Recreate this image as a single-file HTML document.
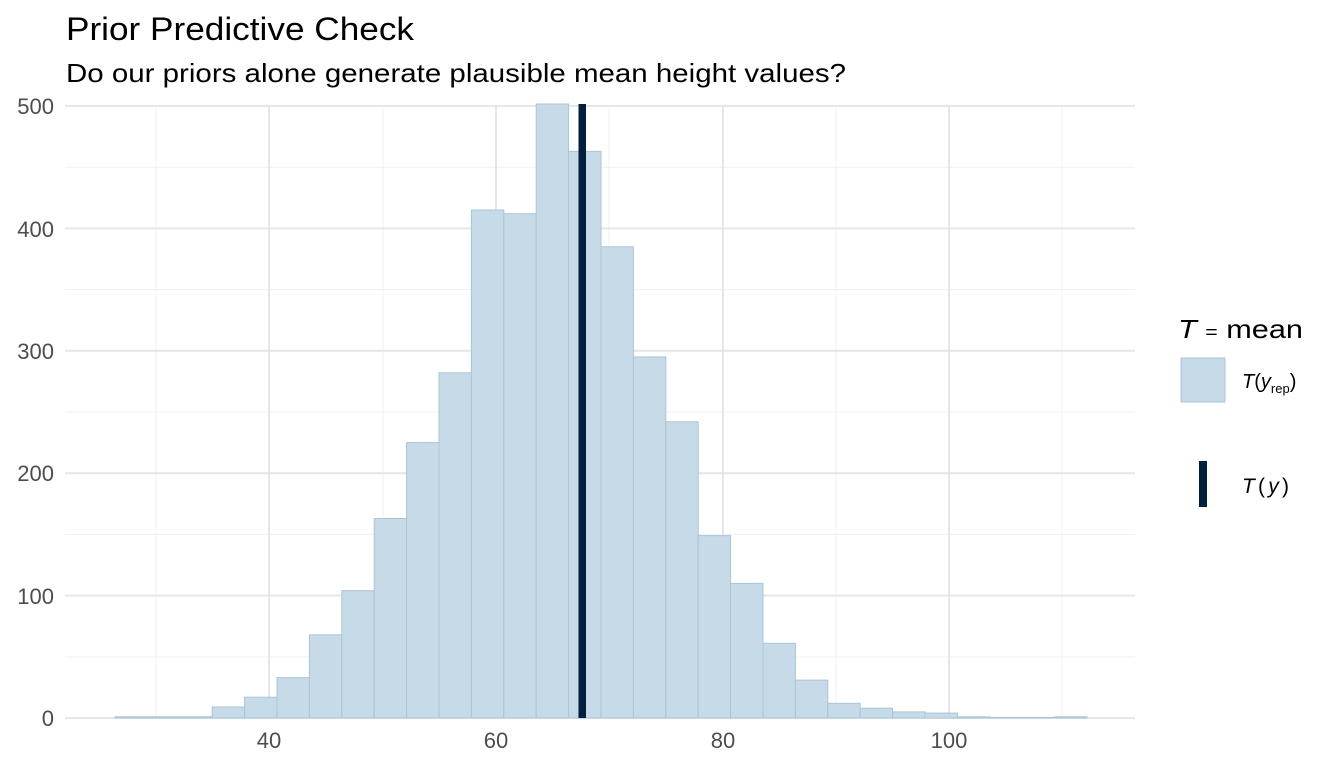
<!DOCTYPE html>
<html><head><meta charset="utf-8"><style>
html,body{margin:0;padding:0;background:#fff;}
svg{display:block;font-family:"Liberation Sans",Arial,sans-serif;}
</style></head><body>
<svg width="1344" height="768" viewBox="0 0 1344 768" xmlns="http://www.w3.org/2000/svg">
<text x="66" y="40" font-size="32" fill="#000" textLength="348" lengthAdjust="spacingAndGlyphs">Prior Predictive Check</text>
<text x="66" y="82" font-size="26" fill="#000" textLength="780" lengthAdjust="spacingAndGlyphs">Do our priors alone generate plausible mean height values?</text>
<g stroke="#f0f0f0" stroke-width="1">
<line x1="65" x2="1135" y1="657" y2="657"/><line x1="65" x2="1135" y1="534.4" y2="534.4"/><line x1="65" x2="1135" y1="412" y2="412"/><line x1="65" x2="1135" y1="289.6" y2="289.6"/><line x1="65" x2="1135" y1="167.2" y2="167.2"/>
<line x1="156" x2="156" y1="106" y2="718"/><line x1="383" x2="383" y1="106" y2="718"/><line x1="609" x2="609" y1="106" y2="718"/><line x1="836" x2="836" y1="106" y2="718"/><line x1="1062" x2="1062" y1="106" y2="718"/>
</g>
<g stroke="#e6e6e6" stroke-width="2">
<line x1="65" x2="1135" y1="718" y2="718"/><line x1="65" x2="1135" y1="595.6" y2="595.6"/><line x1="65" x2="1135" y1="473.2" y2="473.2"/><line x1="65" x2="1135" y1="350.8" y2="350.8"/><line x1="65" x2="1135" y1="228.4" y2="228.4"/><line x1="65" x2="1135" y1="106" y2="106"/>
<line x1="269" x2="269" y1="106" y2="718"/><line x1="496" x2="496" y1="106" y2="718"/><line x1="723" x2="723" y1="106" y2="718"/><line x1="949" x2="949" y1="106" y2="718"/>
</g>
<g fill="#c6dae7" stroke="#a9c5da" stroke-width="1">
<rect x="115" y="716.8" width="32.4" height="1.2"/>
<rect x="147.4" y="716.8" width="32.4" height="1.2"/>
<rect x="179.8" y="716.8" width="32.4" height="1.2"/>
<rect x="212.2" y="707" width="32.4" height="11"/>
<rect x="244.6" y="697.2" width="32.4" height="20.8"/>
<rect x="277" y="677.6" width="32.4" height="40.4"/>
<rect x="309.4" y="634.8" width="32.4" height="83.2"/>
<rect x="341.8" y="590.7" width="32.4" height="127.3"/>
<rect x="374.2" y="518.5" width="32.4" height="199.5"/>
<rect x="406.6" y="442.6" width="32.4" height="275.4"/>
<rect x="439" y="372.8" width="32.4" height="345.2"/>
<rect x="471.4" y="210" width="32.4" height="508"/>
<rect x="503.8" y="213.7" width="32.4" height="504.3"/>
<rect x="536.2" y="104" width="32.4" height="614"/>
<rect x="568.6" y="151.3" width="32.4" height="566.7"/>
<rect x="601" y="246.8" width="32.4" height="471.2"/>
<rect x="633.4" y="356.9" width="32.4" height="361.1"/>
<rect x="665.8" y="421.8" width="32.4" height="296.2"/>
<rect x="698.2" y="535.6" width="32.4" height="182.4"/>
<rect x="730.6" y="583.4" width="32.4" height="134.6"/>
<rect x="763" y="643.3" width="32.4" height="74.7"/>
<rect x="795.4" y="680.1" width="32.4" height="37.9"/>
<rect x="827.8" y="703.3" width="32.4" height="14.7"/>
<rect x="860.2" y="708.2" width="32.4" height="9.8"/>
<rect x="892.6" y="711.9" width="32.4" height="6.1"/>
<rect x="925" y="713.1" width="32.4" height="4.9"/>
<rect x="957.4" y="716.8" width="32.4" height="1.2"/>
<rect x="989.8" y="717.4" width="32.4" height="0.6"/>
<rect x="1022.2" y="717.4" width="32.4" height="0.6"/>
<rect x="1054.6" y="716.8" width="32.4" height="1.2"/>
</g>
<rect x="578.5" y="104" width="7.5" height="614" fill="#011f3f"/>
<g font-size="22" fill="#4d4d4d" text-anchor="end">
<text x="54" y="726">0</text>
<text x="54" y="604">100</text>
<text x="54" y="481">200</text>
<text x="54" y="359">300</text>
<text x="54" y="237">400</text>
<text x="54" y="114">500</text>
</g>
<g font-size="22" fill="#4d4d4d" text-anchor="middle">
<text x="269" y="748">40</text>
<text x="496" y="748">60</text>
<text x="723" y="748">80</text>
<text x="949" y="748">100</text>
</g>
<text x="1178" y="338" font-size="26" fill="#000" textLength="125" lengthAdjust="spacingAndGlyphs"><tspan font-style="italic">T</tspan> <tspan font-size="18">=</tspan> mean</text>
<rect x="1181" y="358" width="44" height="44" fill="#c6dae7" stroke="#a9c5da" stroke-width="1"/>
<text x="1242" y="388" font-size="20" fill="#000"><tspan font-style="italic">T</tspan>(<tspan font-style="italic">y</tspan><tspan font-size="13" dy="5">rep</tspan><tspan dy="-5">)</tspan></text>
<rect x="1199" y="461" width="8" height="46" fill="#011f3f"/>
<text x="1242" y="493" font-size="21" fill="#000" textLength="47" lengthAdjust="spacing"><tspan font-style="italic">T</tspan>(<tspan font-style="italic">y</tspan>)</text>
</svg>
</body></html>
